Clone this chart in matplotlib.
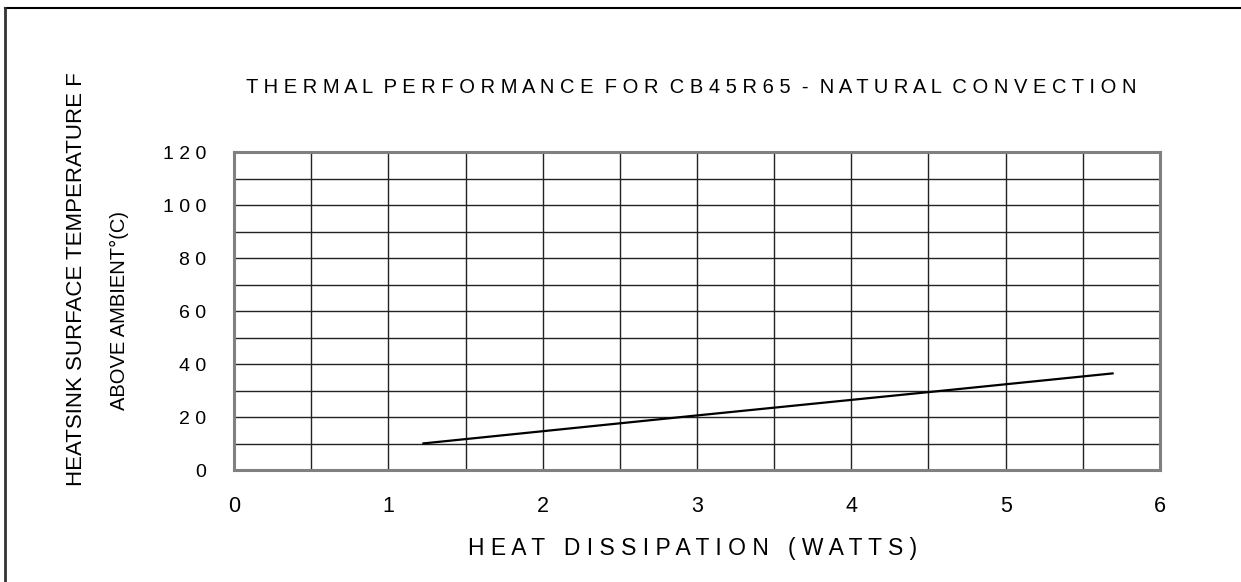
import matplotlib.pyplot as plt
import numpy as np
from matplotlib.lines import Line2D

plt.rcParams['font.family'] = ['Liberation Sans', 'DejaVu Sans']

# data
watts = [1.22, 3.0, 4.5, 5.7]
temp_rise = [10.0, 20.6, 29.4, 36.5]

x_ticks = [0, 1, 2, 3, 4, 5, 6]
y_ticks = [0, 20, 40, 60, 80, 100, 120]


def spaced(s, gap='  '):
    # the original uses wide letter spacing
    return gap.join(' '.join(w) for w in s.split(' '))


fig = plt.figure(figsize=(12.41, 5.82), dpi=100)
ax = fig.add_axes([0.1886, 0.1924, 0.7461, 0.5464])

ax.plot(watts, temp_rise, color='black', lw=1.6, solid_capstyle='butt')

ax.set_xlim(0, 6)
ax.set_ylim(0, 120)
ax.set_xticks(x_ticks)
ax.set_xticklabels([str(v) for v in x_ticks], fontsize=15.5)
ax.set_yticks(y_ticks)
ax.set_yticklabels([spaced(str(v)) for v in y_ticks], fontsize=14)
ax.set_xticks(np.arange(0, 6.01, 0.5), minor=True)
ax.set_yticks(np.arange(0, 120.1, 10), minor=True)
ax.grid(True, which='both', color='#222222', lw=1.0)
ax.tick_params(axis='x', which='both', length=0, pad=19)
ax.tick_params(axis='y', which='major', length=0, pad=20)
ax.tick_params(axis='y', which='minor', length=0)
for sp in ax.spines.values():
    sp.set_color('#808080')
    sp.set_linewidth(2.2)

fig.text(0.557, 0.849, spaced('THERMAL PERFORMANCE FOR CB45R65 - NATURAL CONVECTION'),
         ha='center', va='center', fontsize=14.5)
fig.text(0.558, 0.058, spaced('HEAT DISSIPATION (WATTS)', '   '),
         ha='center', va='center', fontsize=16.5)
fig.text(0.062, 0.52, 'HEATSINK SURFACE TEMPERATURE F', rotation=90,
         ha='center', va='center', fontsize=16)
fig.text(0.096, 0.466, 'ABOVE AMBIENT°(C)', rotation=90,
         ha='center', va='center', fontsize=14.5)

# outer frame (only top and left edges visible)
fig.add_artist(Line2D([0.004, 1.0], [0.986, 0.986], color='black', lw=1.5))
fig.add_artist(Line2D([0.004, 0.004], [0.0, 0.986], color='#333333', lw=2))

fig.savefig('out.png', dpi=100)
